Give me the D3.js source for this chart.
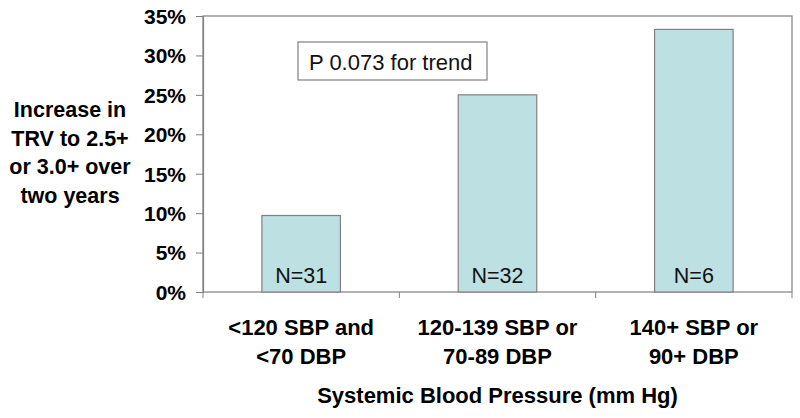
<!DOCTYPE html>
<html>
<head>
<meta charset="utf-8">
<script src="https://cdn.jsdelivr.net/npm/d3@7"></script>
<style>
  body { margin: 0; background: #fff; }
  text { font-family: "Liberation Sans", Arial, sans-serif; }
</style>
</head>
<body>
<svg id="chart" width="800" height="418"></svg>
<script>
// chart data
var categories = [["<120 SBP and", "<70 DBP"], ["120-139 SBP or", "70-89 DBP"], ["140+ SBP or", "90+ DBP"]];
var values = [9.7, 25.0, 33.3];
var counts = ["N=31", "N=32", "N=6"];
var yTicks = [0, 5, 10, 15, 20, 25, 30, 35];
var yTitle = ["Increase in", "TRV to 2.5+", "or 3.0+ over", "two years"];
var xTitle = "Systemic Blood Pressure (mm Hg)";
var note = "P 0.073 for trend";

var svg = d3.select("#chart");
var plotL = 203, plotR = 792, plotT = 16, plotB = 292;
var axisColor = "#808080";

var x = d3.scaleBand()
  .domain(d3.range(categories.length))
  .range([plotL, plotR])
  .paddingInner(0.6).paddingOuter(0.3);

// category boundaries for the bottom ticks
var xEdge = d3.scaleLinear().domain([0, categories.length]).range([plotL, plotR]);

var y = d3.scaleLinear().domain([0, 35]).range([plotB, plotT]);

// frame
svg.append("rect")
  .attr("x", plotL).attr("y", plotT)
  .attr("width", plotR - plotL).attr("height", plotB - plotT)
  .attr("fill", "none").attr("stroke", axisColor).attr("stroke-width", 1.2);

// bars
svg.selectAll("rect.bar")
  .data(values)
  .enter().append("rect")
  .attr("class", "bar")
  .attr("x", function(d, i){ return x(i); })
  .attr("y", function(d){ return y(d); })
  .attr("width", x.bandwidth())
  .attr("height", function(d){ return y(0) - y(d); })
  .attr("fill", "#bde0e3")
  .attr("stroke", axisColor)
  .attr("stroke-width", 1.2);

// N labels
svg.selectAll("text.n")
  .data(counts)
  .enter().append("text")
  .attr("class", "n")
  .attr("x", function(d, i){ return x(i) + x.bandwidth() / 2; })
  .attr("y", plotB - 9)
  .attr("text-anchor", "middle")
  .attr("font-size", 21.5)
  .attr("fill", "#111")
  .text(function(d){ return d; });

// y axis
var yAxis = d3.axisLeft(y)
  .tickValues(yTicks)
  .tickSize(7)
  .tickPadding(10)
  .tickFormat(function(d){ return d + "%"; });

var gy = svg.append("g")
  .attr("transform", "translate(" + plotL + ",0)")
  .call(yAxis);
gy.select(".domain").attr("stroke", axisColor).attr("stroke-width", 1.2);
gy.selectAll(".tick line").attr("stroke", axisColor);
gy.selectAll(".tick text")
  .attr("font-size", 21).attr("font-weight", "bold")
  .attr("fill", "#000").attr("dy", "0.35em")
  .style("font-family", "'Liberation Sans', Arial, sans-serif");

// x boundary ticks
svg.selectAll("line.xtick")
  .data(d3.range(categories.length + 1))
  .enter().append("line")
  .attr("class", "xtick")
  .attr("x1", function(d){ return xEdge(d); })
  .attr("x2", function(d){ return xEdge(d); })
  .attr("y1", plotB).attr("y2", plotB + 6)
  .attr("stroke", axisColor);

// x category labels
var cat = svg.selectAll("text.cat")
  .data(categories)
  .enter().append("text")
  .attr("class", "cat")
  .attr("text-anchor", "middle")
  .attr("font-size", 22)
  .attr("font-weight", "bold")
  .attr("fill", "#000");
cat.selectAll("tspan")
  .data(function(d, i){ return d.map(function(s){ return {s: s, i: i}; }); })
  .enter().append("tspan")
  .attr("x", function(d){ return x(d.i) + x.bandwidth() / 2; })
  .attr("y", function(d, j){ return 335 + j * 29; })
  .text(function(d){ return d.s; });

// x title
svg.append("text")
  .attr("x", (plotL + plotR) / 2).attr("y", 403)
  .attr("text-anchor", "middle")
  .attr("font-size", 22).attr("font-weight", "bold")
  .text(xTitle);

// y title
svg.append("text")
  .attr("text-anchor", "middle")
  .attr("font-size", 21.5).attr("font-weight", "bold")
  .selectAll("tspan")
  .data(yTitle)
  .enter().append("tspan")
  .attr("x", 70)
  .attr("y", function(d, i){ return 117 + i * 28.5; })
  .text(function(d){ return d; });

// note box
svg.append("rect")
  .attr("x", 298).attr("y", 42)
  .attr("width", 189).attr("height", 38)
  .attr("fill", "#fff").attr("stroke", axisColor).attr("stroke-width", 1.2);
svg.append("text")
  .attr("x", 309).attr("y", 70)
  .attr("font-size", 22)
  .attr("fill", "#111")
  .text(note);
</script>
</body>
</html>
